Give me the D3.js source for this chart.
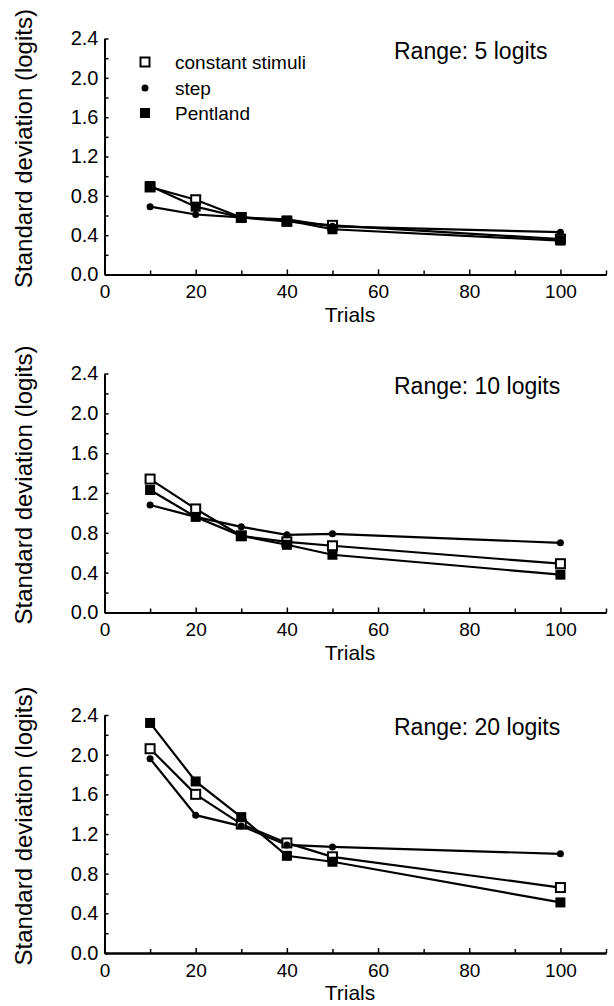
<!DOCTYPE html>
<html>
<head>
<meta charset="utf-8">
<script src="https://cdn.jsdelivr.net/npm/d3@7"></script>
<style>
  body { margin: 0; background: #fff; }
  svg { display: block; font-family: "Liberation Sans", Arial, sans-serif; }
</style>
</head>
<body>
<div id="chart"></div>
<script>
// trial counts on the x axis
const trials = [10, 20, 30, 40, 50, 100];

const panelTitles = ["Range: 5 logits", "Range: 10 logits", "Range: 20 logits"];
const seriesNames = ["constant stimuli", "step", "Pentland"];

// standard deviation (logits), one array per method and panel
const constantStimuli = [
    [0.89, 0.76, 0.58, 0.54, 0.50, 0.36],
    [1.34, 1.04, 0.77, 0.71, 0.67, 0.49],
    [2.06, 1.60, 1.30, 1.11, 0.97, 0.66]
];
const step = [
    [0.69, 0.61, 0.58, 0.56, 0.49, 0.43],
    [1.08, 0.96, 0.86, 0.78, 0.79, 0.70],
    [1.96, 1.39, 1.28, 1.09, 1.07, 1.00]
];
const pentland = [
    [0.90, 0.69, 0.58, 0.55, 0.46, 0.345],
    [1.23, 0.96, 0.77, 0.68, 0.58, 0.38],
    [2.32, 1.73, 1.37, 0.98, 0.92, 0.51]
];

const xMajor = [0, 20, 40, 60, 80, 100];
const xMinor = [10, 30, 50, 70, 90, 110];
const yMajor = [0, 0.4, 0.8, 1.2, 1.6, 2.0, 2.4];
const yMinor = [0.2, 0.6, 1.0, 1.4, 1.8, 2.2];

const width = 614, height = 1006;
const left = 104.5, right = 606;
const panels = [
    { top: 38.5, bottom: 274.5 },
    { top: 373.5, bottom: 612.5 },
    { top: 715, bottom: 953 }
];

const svg = d3.select("#chart").append("svg")
    .attr("width", width)
    .attr("height", height);

const x = d3.scaleLinear().domain([0, 110]).range([left, right]);

function styleAxis(g) {
    g.select(".domain").attr("stroke", "#000").attr("stroke-width", 2);
    g.selectAll(".tick line").attr("stroke", "#000").attr("stroke-width", 1.5);
    g.selectAll("text").attr("fill", "#000");
}

panels.forEach((p, i) => {
    const y = d3.scaleLinear().domain([0, 2.4]).range([p.bottom, p.top]);
    const g = svg.append("g");

    // axes, ticks pointing inward
    g.append("g")
        .attr("transform", `translate(0,${p.bottom})`)
        .call(d3.axisBottom(x).tickValues(xMinor).tickSize(-4).tickSizeOuter(0).tickFormat(""))
        .call(styleAxis);
    g.append("g")
        .attr("transform", `translate(0,${p.bottom})`)
        .call(d3.axisBottom(x).tickValues(xMajor).tickSize(-5).tickSizeOuter(0).tickPadding(10.5))
        .call(styleAxis)
        .selectAll("text").style("font-size", "19px");

    g.append("g")
        .attr("transform", `translate(${left},0)`)
        .call(d3.axisLeft(y).tickValues(yMinor).tickSize(-4).tickSizeOuter(0).tickFormat(""))
        .call(styleAxis);
    g.append("g")
        .attr("transform", `translate(${left},0)`)
        .call(d3.axisLeft(y).tickValues(yMajor).tickSize(-4).tickSizeOuter(0).tickPadding(6).tickFormat(d3.format(".1f")))
        .call(styleAxis)
        .selectAll("text").style("font-size", "20px");

    g.append("text")
        .attr("x", 350)
        .attr("y", p.bottom + 47)
        .attr("text-anchor", "middle")
        .style("font-size", "21px")
        .text("Trials");

    g.append("text")
        .attr("transform", `translate(32,${(p.top + p.bottom) / 2 - 8}) rotate(-90)`)
        .attr("text-anchor", "middle")
        .style("font-size", "24px")
        .text("Standard deviation (logits)");

    g.append("text")
        .attr("x", 394)
        .attr("y", p.top + 20)
        .style("font-size", "23px")
        .text(panelTitles[i]);

    const line = d3.line()
        .x((d, j) => x(trials[j]))
        .y(d => y(d));

    [step[i], constantStimuli[i], pentland[i]].forEach(vals => {
        g.append("path")
            .attr("d", line(vals))
            .attr("fill", "none")
            .attr("stroke", "#000")
            .attr("stroke-width", 2.2);
    });

    g.selectAll(".open").data(constantStimuli[i]).enter()
        .append("rect")
        .attr("x", (d, j) => x(trials[j]) - 4.5)
        .attr("y", d => y(d) - 4.5)
        .attr("width", 9).attr("height", 9)
        .attr("fill", "#fff").attr("stroke", "#000").attr("stroke-width", 2);

    g.selectAll(".filled").data(pentland[i]).enter()
        .append("rect")
        .attr("x", (d, j) => x(trials[j]) - 5)
        .attr("y", d => y(d) - 5)
        .attr("width", 10).attr("height", 10)
        .attr("fill", "#000");

    g.selectAll(".dot").data(step[i]).enter()
        .append("circle")
        .attr("cx", (d, j) => x(trials[j]))
        .attr("cy", d => y(d))
        .attr("r", 3.5)
        .attr("fill", "#000");

    if (i === 0) {
        const legend = g.append("g");
        const rows = [23.5, 49.5, 74.5];
        rows.forEach((dy, k) => {
            const cy = p.top + dy;
            if (k === 0) {
                legend.append("rect").attr("x", 140.5).attr("y", cy - 4.5).attr("width", 9).attr("height", 9)
                    .attr("fill", "#fff").attr("stroke", "#000").attr("stroke-width", 2);
            } else if (k === 1) {
                legend.append("circle").attr("cx", 145).attr("cy", cy).attr("r", 3.5).attr("fill", "#000");
            } else {
                legend.append("rect").attr("x", 140).attr("y", cy - 5).attr("width", 10).attr("height", 10)
                    .attr("fill", "#000");
            }
            legend.append("text")
                .attr("x", 175)
                .attr("y", cy)
                .attr("dy", "0.35em")
                .style("font-size", "19px")
                .text(seriesNames[k]);
        });
    }
});
</script>
</body>
</html>
